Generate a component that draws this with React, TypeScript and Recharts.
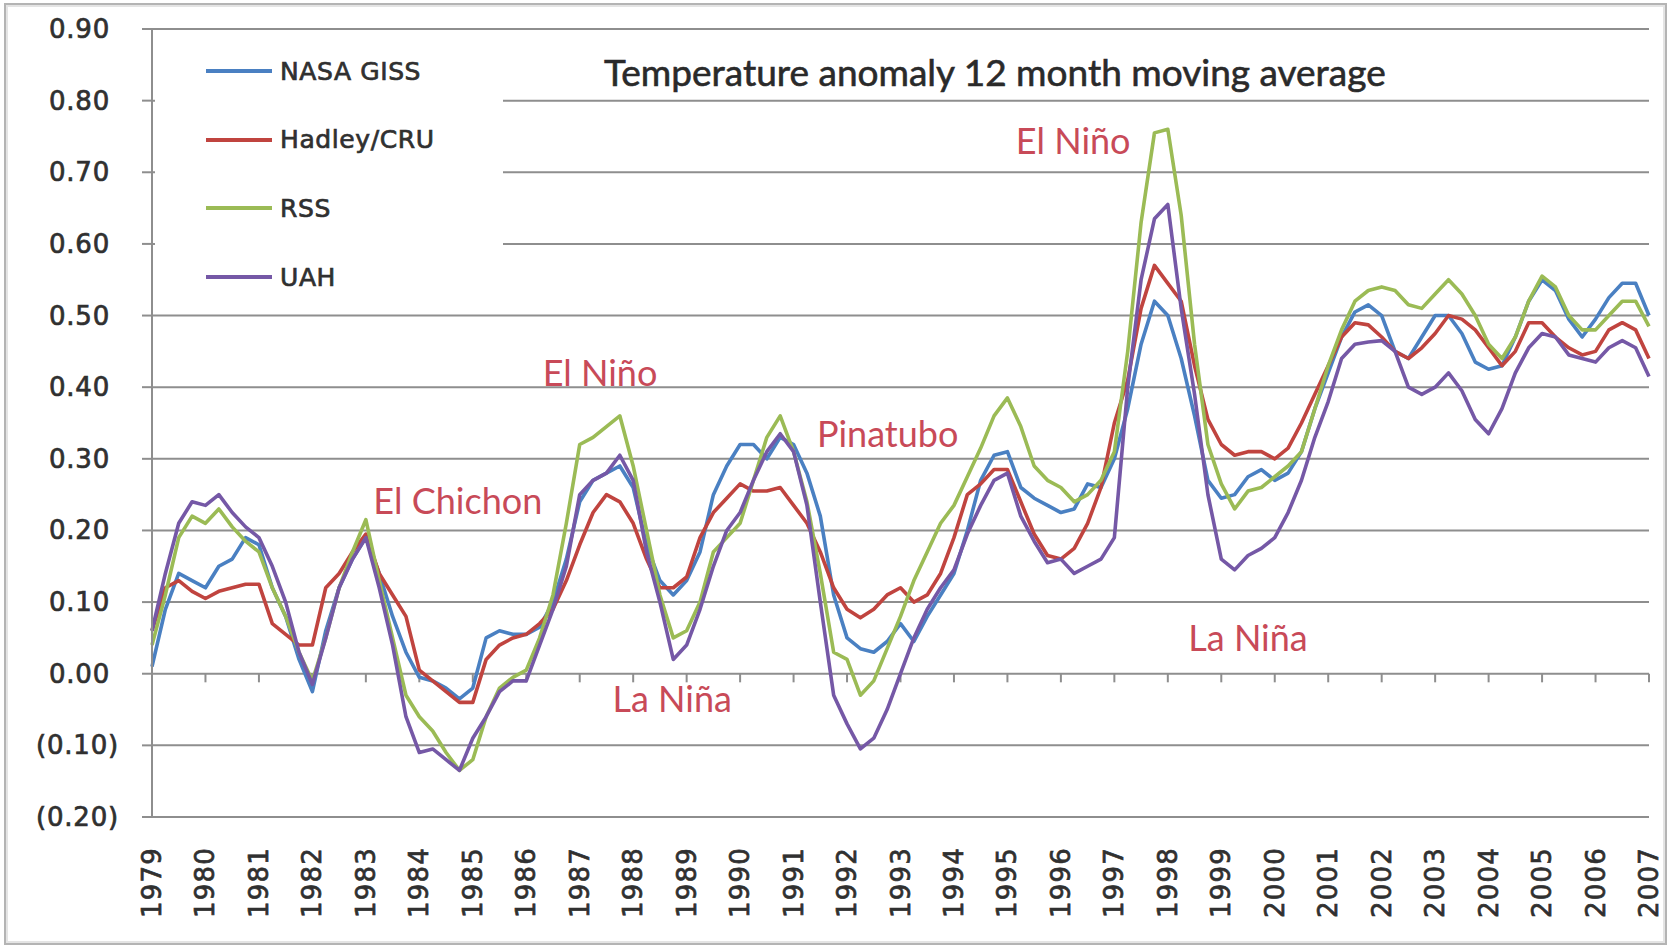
import React from 'react';
import { LineChart, Line, XAxis, YAxis, CartesianGrid, Legend, ReferenceDot, ReferenceLine } from 'recharts';

// quarterly sample times (decimal years)
const quarters = [
  1979, 1979.25, 1979.5, 1979.75, 1980, 1980.25, 1980.5, 1980.75,
  1981, 1981.25, 1981.5, 1981.75, 1982, 1982.25, 1982.5, 1982.75,
  1983, 1983.25, 1983.5, 1983.75, 1984, 1984.25, 1984.5, 1984.75,
  1985, 1985.25, 1985.5, 1985.75, 1986, 1986.25, 1986.5, 1986.75,
  1987, 1987.25, 1987.5, 1987.75, 1988, 1988.25, 1988.5, 1988.75,
  1989, 1989.25, 1989.5, 1989.75, 1990, 1990.25, 1990.5, 1990.75,
  1991, 1991.25, 1991.5, 1991.75, 1992, 1992.25, 1992.5, 1992.75,
  1993, 1993.25, 1993.5, 1993.75, 1994, 1994.25, 1994.5, 1994.75,
  1995, 1995.25, 1995.5, 1995.75, 1996, 1996.25, 1996.5, 1996.75,
  1997, 1997.25, 1997.5, 1997.75, 1998, 1998.25, 1998.5, 1998.75,
  1999, 1999.25, 1999.5, 1999.75, 2000, 2000.25, 2000.5, 2000.75,
  2001, 2001.25, 2001.5, 2001.75, 2002, 2002.25, 2002.5, 2002.75,
  2003, 2003.25, 2003.5, 2003.75, 2004, 2004.25, 2004.5, 2004.75,
  2005, 2005.25, 2005.5, 2005.75, 2006, 2006.25, 2006.5, 2006.75,
  2007,
];

const nasaGiss = [
  0.01, 0.09, 0.14, 0.13, 0.12, 0.15, 0.16, 0.19,
  0.18, 0.12, 0.08, 0.02, -0.025, 0.06, 0.12, 0.16,
  0.19, 0.14, 0.08, 0.03, -0.005, -0.01, -0.02, -0.035,
  -0.02, 0.05, 0.06, 0.055, 0.055, 0.065, 0.1, 0.16,
  0.24, 0.27, 0.28, 0.29, 0.26, 0.18, 0.13, 0.11,
  0.13, 0.17, 0.25, 0.29, 0.32, 0.32, 0.3, 0.33,
  0.32, 0.28, 0.22, 0.11, 0.05, 0.035, 0.03, 0.045,
  0.07, 0.045, 0.08, 0.11, 0.14, 0.2, 0.27, 0.305,
  0.31, 0.26, 0.245, 0.235, 0.225, 0.23, 0.265, 0.26,
  0.3, 0.37, 0.46, 0.52, 0.5, 0.44, 0.36, 0.27,
  0.245, 0.25, 0.275, 0.285, 0.27, 0.28, 0.31, 0.37,
  0.42, 0.47, 0.505, 0.515, 0.5, 0.45, 0.44, 0.47,
  0.5, 0.5, 0.475, 0.435, 0.425, 0.43, 0.47, 0.52,
  0.55, 0.535, 0.495, 0.47, 0.495, 0.525, 0.545, 0.545,
  0.5,
];

const hadleyCru = [
  0.06, 0.12, 0.13, 0.115, 0.105, 0.115, 0.12, 0.125,
  0.125, 0.07, 0.055, 0.04, 0.04, 0.12, 0.14, 0.17,
  0.195, 0.14, 0.11, 0.08, 0.005, -0.01, -0.025, -0.04,
  -0.04, 0.02, 0.04, 0.05, 0.055, 0.07, 0.09, 0.13,
  0.18, 0.225, 0.25, 0.24, 0.21, 0.16, 0.12, 0.12,
  0.135, 0.19, 0.225, 0.245, 0.265, 0.255, 0.255, 0.26,
  0.235, 0.21, 0.17, 0.12, 0.09, 0.078, 0.09, 0.11,
  0.12, 0.1, 0.11, 0.14, 0.19, 0.25, 0.265, 0.285,
  0.285, 0.24, 0.195, 0.165, 0.16, 0.175, 0.21, 0.26,
  0.35, 0.41, 0.51, 0.57, 0.545, 0.52, 0.43, 0.355,
  0.32, 0.305, 0.31, 0.31, 0.3, 0.315, 0.35, 0.39,
  0.43, 0.47, 0.49, 0.487, 0.47, 0.45, 0.44, 0.455,
  0.475, 0.5, 0.495, 0.48, 0.455, 0.43, 0.45, 0.49,
  0.49, 0.47, 0.455, 0.445, 0.45, 0.48, 0.49, 0.48,
  0.44,
];

const rss = [
  0.04, 0.11, 0.19, 0.22, 0.21, 0.23, 0.205, 0.185,
  0.17, 0.12, 0.08, 0.03, -0.01, 0.05, 0.12, 0.17,
  0.215, 0.13, 0.05, -0.03, -0.06, -0.08, -0.11, -0.135,
  -0.12, -0.06, -0.02, -0.005, 0.005, 0.05, 0.11, 0.21,
  0.32, 0.33, 0.345, 0.36, 0.29, 0.2, 0.11, 0.05,
  0.06, 0.1, 0.17, 0.19, 0.21, 0.27, 0.33, 0.36,
  0.31, 0.24, 0.14, 0.03, 0.02, -0.03, -0.01, 0.035,
  0.08, 0.13, 0.17, 0.21, 0.235, 0.275, 0.315, 0.36,
  0.385, 0.345, 0.29, 0.27, 0.26, 0.24, 0.25, 0.27,
  0.31, 0.45, 0.63, 0.755, 0.76, 0.64, 0.46, 0.32,
  0.265, 0.23, 0.255, 0.26, 0.275, 0.29, 0.31, 0.37,
  0.43, 0.48, 0.52, 0.535, 0.54, 0.535, 0.515, 0.51,
  0.53, 0.55, 0.53, 0.5, 0.46, 0.44, 0.47, 0.52,
  0.555, 0.54, 0.5, 0.48, 0.48, 0.5, 0.52, 0.52,
  0.485,
];

const uah = [
  0.06, 0.14, 0.21, 0.24, 0.235, 0.25, 0.225, 0.205,
  0.19, 0.15, 0.1, 0.03, -0.015, 0.05, 0.12, 0.16,
  0.19, 0.12, 0.04, -0.06, -0.11, -0.105, -0.12, -0.135,
  -0.09, -0.06, -0.025, -0.01, -0.01, 0.04, 0.09, 0.15,
  0.25, 0.27, 0.28, 0.305, 0.27, 0.17, 0.1, 0.02,
  0.04, 0.09, 0.15, 0.2, 0.225, 0.27, 0.31, 0.335,
  0.31, 0.235, 0.1, -0.03, -0.07, -0.105, -0.09, -0.05,
  0.0, 0.05, 0.09, 0.12, 0.145, 0.195, 0.235, 0.27,
  0.28, 0.22, 0.185, 0.155, 0.16, 0.14, 0.15, 0.16,
  0.19, 0.4, 0.55, 0.635, 0.655, 0.51, 0.39, 0.25,
  0.16, 0.145, 0.165, 0.175, 0.19, 0.225, 0.27, 0.33,
  0.38, 0.44, 0.46, 0.463, 0.465, 0.45, 0.4, 0.39,
  0.4, 0.42, 0.395, 0.355, 0.335, 0.37, 0.42, 0.455,
  0.475, 0.47, 0.445, 0.44, 0.435, 0.455, 0.465, 0.455,
  0.415,
];

const yearTicks = [
  1979, 1980, 1981, 1982, 1983, 1984, 1985, 1986, 1987, 1988,
  1989, 1990, 1991, 1992, 1993, 1994, 1995, 1996, 1997, 1998,
  1999, 2000, 2001, 2002, 2003, 2004, 2005, 2006, 2007,
];

const valueTicks = [-0.2, -0.1, 0, 0.1, 0.2, 0.3, 0.4, 0.5, 0.6, 0.7, 0.8, 0.9];

const seriesNames = ['NASA GISS', 'Hadley/CRU', 'RSS', 'UAH'];
const seriesKeys = ['giss', 'hadley', 'rss', 'uah'];
const seriesColors = ['#4a80c2', '#c0443f', '#9bbb55', '#7558a6'];

const annotations = [
  { text: 'El Niño', x: 1996.23, y: 0.744 },
  { text: 'El Niño', x: 1987.38, y: 0.42 },
  { text: 'Pinatubo', x: 1992.76, y: 0.334 },
  { text: 'El Chichon', x: 1984.72, y: 0.241 },
  { text: 'La Niña', x: 1988.73, y: -0.036 },
  { text: 'La Niña', x: 1999.5, y: 0.05 },
];

const titleText = 'Temperature anomaly 12 month moving average';

const data = quarters.map((t, i) => ({
  t,
  giss: nasaGiss[i],
  hadley: hadleyCru[i],
  rss: rss[i],
  uah: uah[i],
}));

const GRID = '#8e8e8e';
const TICK_FONT = '"DejaVu Sans", Verdana, sans-serif';
const TEXT_COLOR = '#303030';

const YTick = (props: any) => {
  const { x, y, payload } = props;
  const v = Number(payload.value);
  const label = v < 0 ? `(${Math.abs(v).toFixed(2)})` : v.toFixed(2);
  return (
    <text
      x={v < 0 ? x + 9 : x}
      y={y}
      textAnchor="end"
      dominantBaseline="central"
      fontFamily={TICK_FONT}
      fontSize={26}
      letterSpacing={0.8}
      fill={TEXT_COLOR}
      stroke={TEXT_COLOR}
      strokeWidth={0.7}
    >
      {label}
    </text>
  );
};

const XTick = (props: any) => {
  const { x, y, payload } = props;
  return (
    <text
      x={x}
      y={y}
      transform={`rotate(-90 ${x} ${y})`}
      textAnchor="end"
      dominantBaseline="central"
      fontFamily={TICK_FONT}
      fontSize={26}
      letterSpacing={1.2}
      fill={TEXT_COLOR}
      stroke={TEXT_COLOR}
      strokeWidth={0.7}
    >
      {payload.value}
    </text>
  );
};

const renderLegend = (props: any) => {
  const payload = [...(props.payload || [])].sort(
    (a: any, b: any) => seriesNames.indexOf(a.value) - seriesNames.indexOf(b.value)
  );
  return (
    <div style={{ background: '#fff', width: 348, height: 275, position: 'relative' }}>
      {payload.map((p: any, i: number) => (
        <div
          key={p.value}
          style={{
            position: 'absolute',
            left: 51,
            top: 37 + i * 68.7 - 17,
            height: 34,
            display: 'flex',
            alignItems: 'center',
            whiteSpace: 'nowrap',
          }}
        >
          <div style={{ width: 66, height: 4, background: p.color }} />
          <span
            style={{
              marginLeft: 8,
              fontFamily: TICK_FONT,
              fontSize: 25,
              letterSpacing: 0.6,
              color: TEXT_COLOR,
              WebkitTextStroke: `0.7px ${TEXT_COLOR}`,
            }}
          >
            {p.value}
          </span>
        </div>
      ))}
    </div>
  );
};

export default function App() {
  return (
    <div style={{ position: 'absolute', left: 0, top: 0, width: 1671, height: 949, background: '#fff' }}>
      <div
        style={{
          position: 'absolute',
          left: 4,
          top: 3,
          width: 1663,
          height: 942,
          boxSizing: 'border-box',
          border: '2px solid #b4b4b4',
          boxShadow: 'inset 0 0 0 2px #e4e4e4',
        }}
      />
      <LineChart
        width={1671}
        height={949}
        data={data}
        margin={{ top: 29, right: 22, bottom: 0, left: 0 }}
      >
        <CartesianGrid horizontal vertical={false} stroke={GRID} strokeWidth={2} />
        <XAxis
          dataKey="t"
          type="number"
          domain={[1979, 2007]}
          ticks={yearTicks}
          interval={0}
          height={132}
          tickSize={0}
          tickMargin={30}
          tickLine={false}
          axisLine={{ stroke: GRID, strokeWidth: 2 }}
          tick={<XTick />}
        />
        <YAxis
          type="number"
          domain={[-0.2, 0.9]}
          ticks={valueTicks}
          interval={0}
          width={152}
          tickSize={10}
          tickMargin={32}
          axisLine={{ stroke: GRID, strokeWidth: 2 }}
          tickLine={{ stroke: GRID, strokeWidth: 2 }}
          tick={<YTick />}
          allowDataOverflow
        />
        {yearTicks.slice(1).map((yr) => (
          <ReferenceLine
            key={`tk${yr}`}
            segment={[{ x: yr, y: 0 }, { x: yr, y: -0.012 }]}
            stroke={GRID}
            strokeWidth={2}
          />
        ))}
        <Legend
          content={renderLegend}
          layout="vertical"
          align="center"
          verticalAlign="middle"
          wrapperStyle={{ position: 'absolute', left: 155, top: 34, width: 348, height: 275 }}
        />
        {seriesKeys.map((k, i) => (
          <Line
            key={k}
            type="linear"
            dataKey={k}
            name={seriesNames[i]}
            stroke={seriesColors[i]}
            strokeWidth={3.6}
            strokeLinejoin="round"
            dot={false}
            activeDot={false}
            isAnimationActive={false}
          />
        ))}
        {annotations.map((a, i) => (
          <ReferenceDot
            key={`an${i}`}
            x={a.x}
            y={a.y}
            r={0}
            fill="none"
            stroke="none"
            label={{
              value: a.text,
              position: 'center',
              fill: '#c84a58',
              fontSize: 36,
              fontFamily: 'Lato, "Open Sans", sans-serif',
            }}
          />
        ))}
      </LineChart>
      <div
        style={{
          position: 'absolute',
          left: 604,
          top: 51,
          height: 42,
          lineHeight: '42px',
          fontFamily: 'Lato, "Open Sans", sans-serif',
          fontSize: 37,
          color: '#2a2a2a',
          WebkitTextStroke: '0.6px #2a2a2a',
          whiteSpace: 'nowrap',
        }}
      >
        {titleText}
      </div>
    </div>
  );
}
